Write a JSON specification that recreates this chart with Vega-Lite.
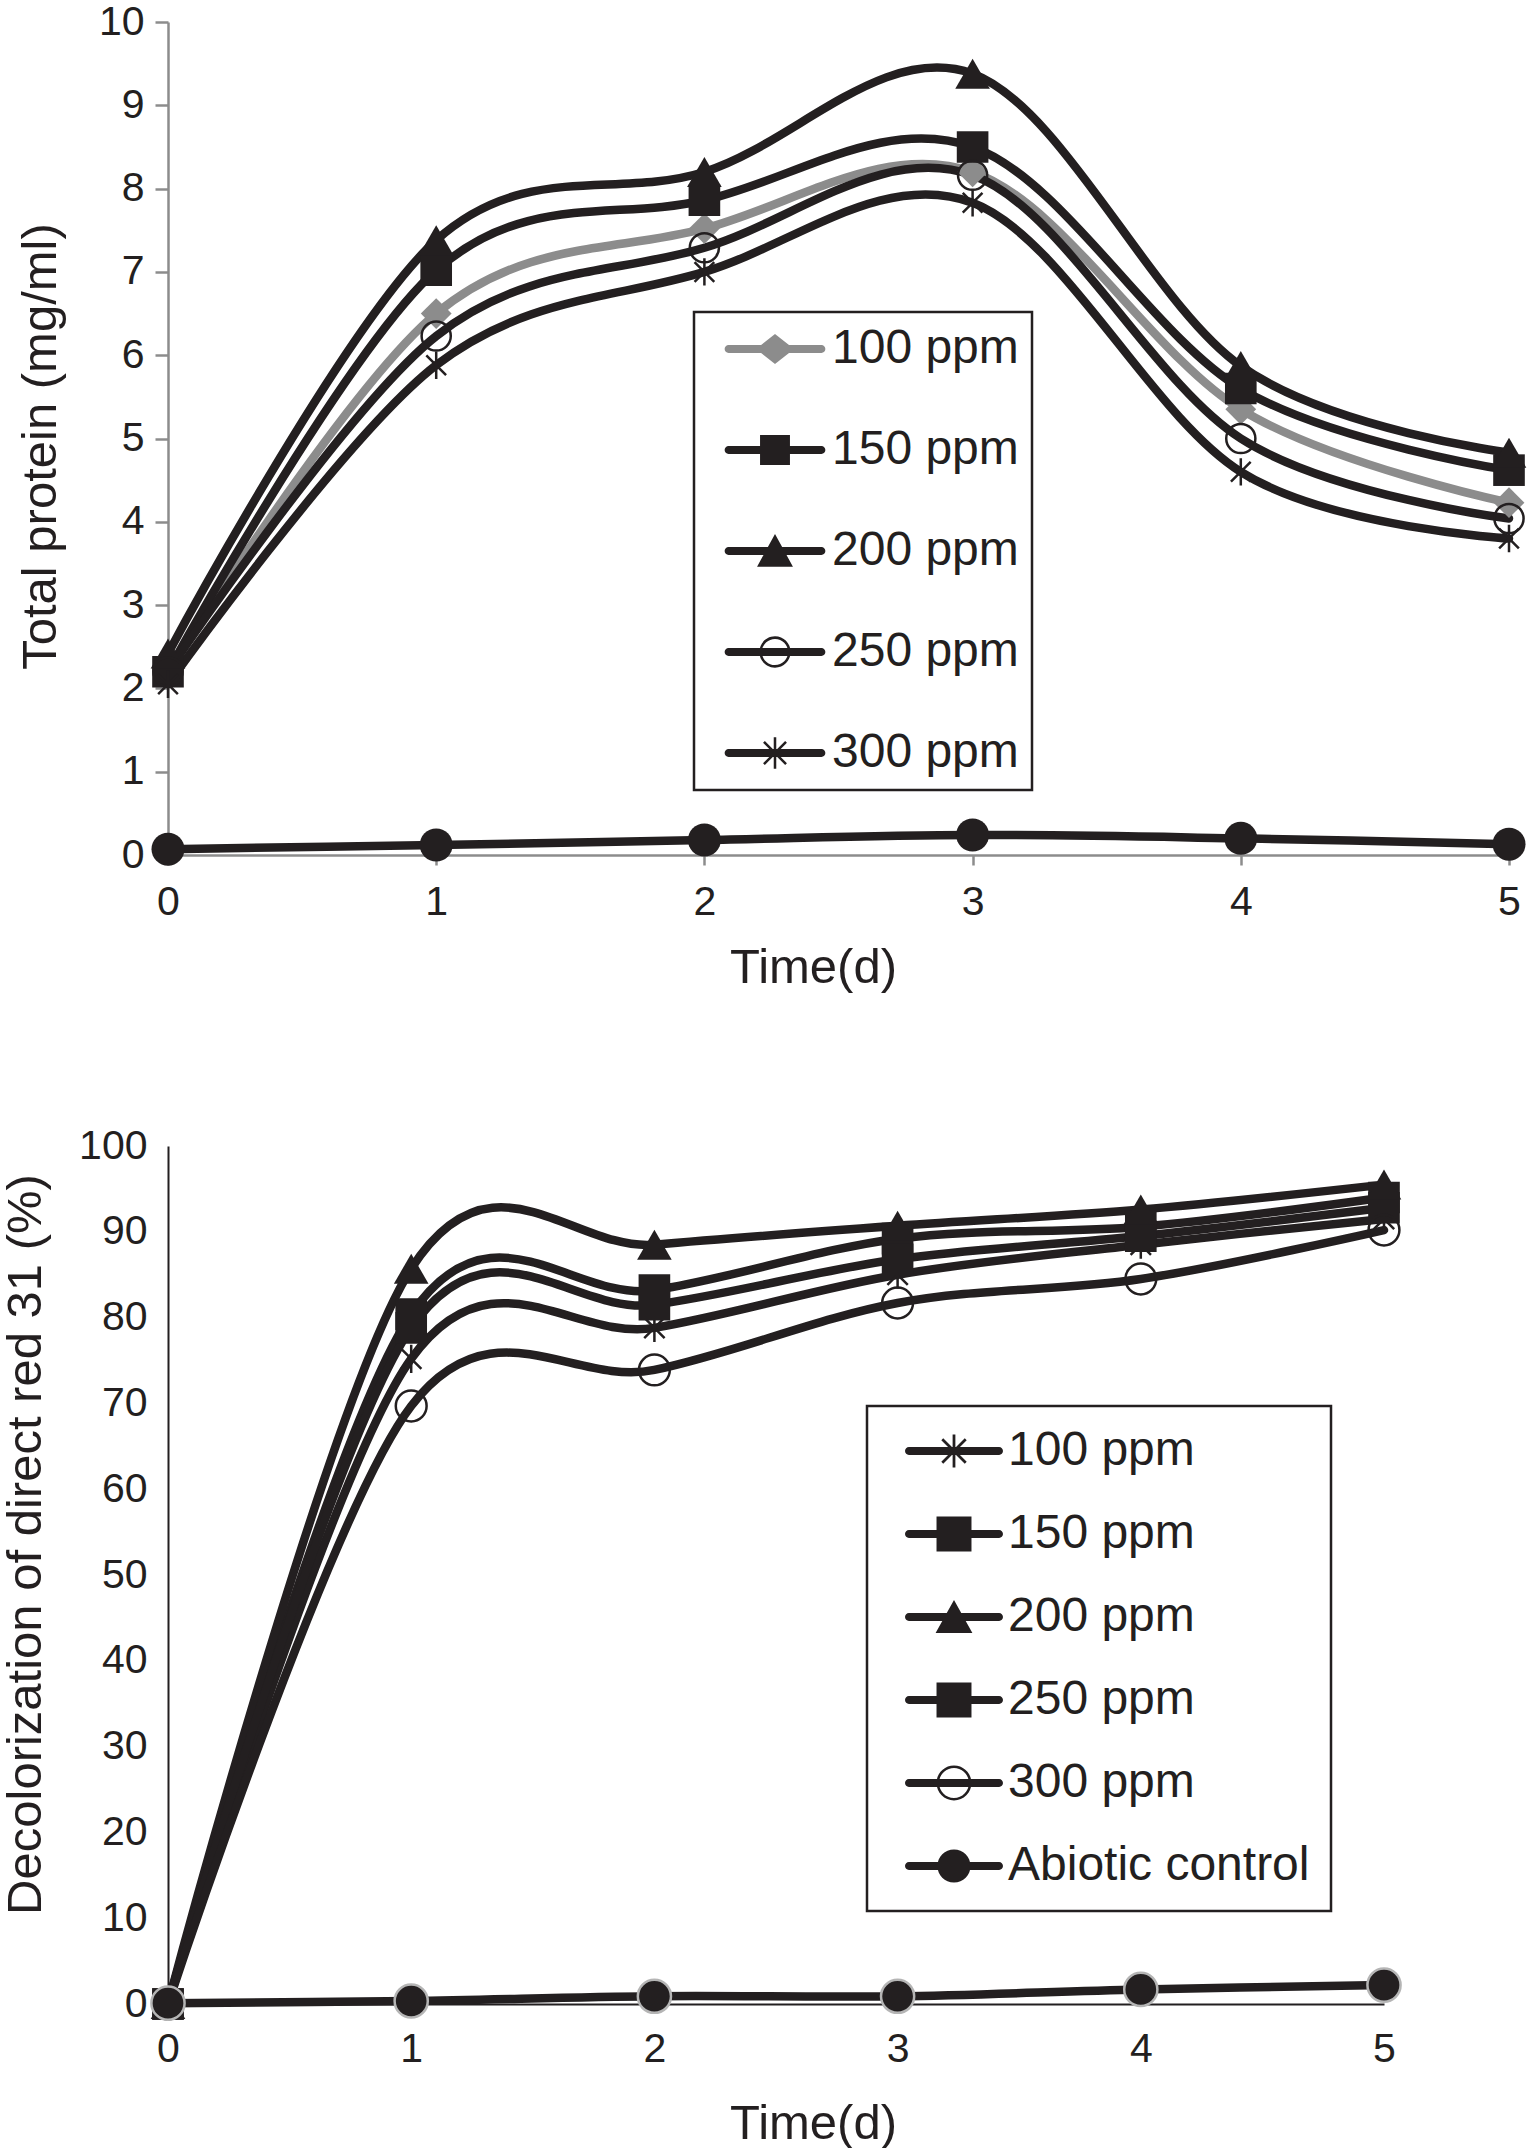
{
  "$schema": "https://vega.github.io/schema/vega-lite/v6.json",
  "padding": {"left": 1, "top": 1, "right": 0, "bottom": 0},
  "spacing": 133,
  "config": {
    "font": "Liberation Sans",
    "view": {"stroke": null},
    "axis": {
      "labelFont": "Liberation Sans",
      "titleFont": "Liberation Sans",
      "labelFontSize": 41,
      "titleFontSize": 49,
      "titleFontWeight": "normal",
      "labelColor": "#231f20",
      "titleColor": "#231f20",
      "grid": false,
      "labelFlush": false,
      "labelOverlap": false
    },
    "legend": {
      "labelFont": "Liberation Sans",
      "labelColor": "#231f20",
      "labelFontSize": 48,
      "labelLimit": 0,
      "strokeColor": "#231f20",
      "fillColor": "#ffffff",
      "strokeWidth": 2.5,
      "symbolSize": 2116,
      "symbolStrokeWidth": 0,
      "symbolOpacity": 1
    }
  },
  "datasets": {
    "protein": [
      {"day": 0, "series": "100 ppm", "value": 2.2},
      {"day": 1, "series": "100 ppm", "value": 6.5},
      {"day": 2, "series": "100 ppm", "value": 7.52},
      {"day": 3, "series": "100 ppm", "value": 8.2},
      {"day": 4, "series": "100 ppm", "value": 5.35},
      {"day": 5, "series": "100 ppm", "value": 4.23},
      {"day": 0, "series": "150 ppm", "value": 2.2},
      {"day": 1, "series": "150 ppm", "value": 7.02},
      {"day": 2, "series": "150 ppm", "value": 7.86},
      {"day": 3, "series": "150 ppm", "value": 8.5},
      {"day": 4, "series": "150 ppm", "value": 5.6},
      {"day": 5, "series": "150 ppm", "value": 4.62},
      {"day": 0, "series": "200 ppm", "value": 2.42},
      {"day": 1, "series": "200 ppm", "value": 7.38},
      {"day": 2, "series": "200 ppm", "value": 8.2},
      {"day": 3, "series": "200 ppm", "value": 9.38},
      {"day": 4, "series": "200 ppm", "value": 5.87},
      {"day": 5, "series": "200 ppm", "value": 4.83},
      {"day": 0, "series": "250 ppm", "value": 2.2},
      {"day": 1, "series": "250 ppm", "value": 6.23},
      {"day": 2, "series": "250 ppm", "value": 7.29},
      {"day": 3, "series": "250 ppm", "value": 8.16},
      {"day": 4, "series": "250 ppm", "value": 5.0},
      {"day": 5, "series": "250 ppm", "value": 4.04},
      {"day": 0, "series": "300 ppm", "value": 2.05},
      {"day": 1, "series": "300 ppm", "value": 5.88},
      {"day": 2, "series": "300 ppm", "value": 7.0},
      {"day": 3, "series": "300 ppm", "value": 7.83},
      {"day": 4, "series": "300 ppm", "value": 4.6},
      {"day": 5, "series": "300 ppm", "value": 3.8},
      {"day": 0, "series": "Abiotic control", "value": 0.07},
      {"day": 1, "series": "Abiotic control", "value": 0.12},
      {"day": 2, "series": "Abiotic control", "value": 0.18},
      {"day": 3, "series": "Abiotic control", "value": 0.24},
      {"day": 4, "series": "Abiotic control", "value": 0.2},
      {"day": 5, "series": "Abiotic control", "value": 0.13}
    ],
    "decol": [
      {"day": 0, "dose": "100 ppm", "value": 0},
      {"day": 1, "dose": "100 ppm", "value": 75.2},
      {"day": 2, "dose": "100 ppm", "value": 78.8},
      {"day": 3, "dose": "100 ppm", "value": 85},
      {"day": 4, "dose": "100 ppm", "value": 88.5},
      {"day": 5, "dose": "100 ppm", "value": 91.5},
      {"day": 0, "dose": "150 ppm", "value": 0},
      {"day": 1, "dose": "150 ppm", "value": 80.4},
      {"day": 2, "dose": "150 ppm", "value": 83.2},
      {"day": 3, "dose": "150 ppm", "value": 89.2},
      {"day": 4, "dose": "150 ppm", "value": 90.6},
      {"day": 5, "dose": "150 ppm", "value": 94},
      {"day": 0, "dose": "200 ppm", "value": 0},
      {"day": 1, "dose": "200 ppm", "value": 85.7},
      {"day": 2, "dose": "200 ppm", "value": 88.5},
      {"day": 3, "dose": "200 ppm", "value": 90.7},
      {"day": 4, "dose": "200 ppm", "value": 92.6},
      {"day": 5, "dose": "200 ppm", "value": 95.5},
      {"day": 0, "dose": "250 ppm", "value": 0},
      {"day": 1, "dose": "250 ppm", "value": 78.8},
      {"day": 2, "dose": "250 ppm", "value": 81.5},
      {"day": 3, "dose": "250 ppm", "value": 86.8},
      {"day": 4, "dose": "250 ppm", "value": 89.5},
      {"day": 5, "dose": "250 ppm", "value": 92.8},
      {"day": 0, "dose": "300 ppm", "value": 0},
      {"day": 1, "dose": "300 ppm", "value": 69.7},
      {"day": 2, "dose": "300 ppm", "value": 73.9},
      {"day": 3, "dose": "300 ppm", "value": 81.7},
      {"day": 4, "dose": "300 ppm", "value": 84.5},
      {"day": 5, "dose": "300 ppm", "value": 90.2},
      {"day": 0, "dose": "Abiotic control", "value": 0.1},
      {"day": 1, "dose": "Abiotic control", "value": 0.35},
      {"day": 2, "dose": "Abiotic control", "value": 0.9},
      {"day": 3, "dose": "Abiotic control", "value": 0.9},
      {"day": 4, "dose": "Abiotic control", "value": 1.7},
      {"day": 5, "dose": "Abiotic control", "value": 2.2}
    ]
  },
  "vconcat": [
    {
      "width": 1341,
      "height": 833,
      "data": {"name": "protein"},
      "encoding": {
        "x": {
          "field": "day",
          "type": "quantitative",
          "scale": {"domain": [0, 5], "nice": false},
          "axis": {
            "values": [0, 1, 2, 3, 4, 5],
            "domainColor": "#8c8c8c",
            "domainWidth": 2.5,
            "tickColor": "#8c8c8c",
            "tickWidth": 2.5,
            "tickSize": 10,
            "labelPadding": 17,
            "title": "Time(d)",
            "titlePadding": 21,
            "titleX": 645
          }
        },
        "y": {
          "field": "value",
          "type": "quantitative",
          "scale": {"domain": [0, 10], "nice": false},
          "axis": {
            "values": [0, 1, 2, 3, 4, 5, 6, 7, 8, 9, 10],
            "domainColor": "#8c8c8c",
            "domainWidth": 2.5,
            "tickColor": "#8c8c8c",
            "tickWidth": 2.5,
            "tickSize": 13,
            "labelPadding": 11,
            "title": "Total protein (mg/ml)",
            "titlePadding": 33,
            "titleY": 424
          }
        }
      },
      "layer": [
        {
          "transform": [{"filter": "datum.series === '100 ppm'"}],
          "mark": {"type": "line", "interpolate": "cardinal", "strokeWidth": 8.5, "strokeCap": "round", "color": "#8c8c8c"},
          "encoding": {}
        },
        {
          "transform": [{"filter": "datum.series !== '100 ppm'"}],
          "mark": {"type": "line", "interpolate": "cardinal", "strokeWidth": 8.5, "strokeCap": "round", "color": "#231f20"},
          "encoding": {"detail": {"field": "series", "type": "nominal"}}
        },
        {
          "transform": [{"filter": "datum.series === '100 ppm'"}],
          "mark": {"type": "point", "shape": "diamond", "filled": true, "color": "#8c8c8c", "size": 950, "opacity": 1},
          "encoding": {}
        },
        {
          "transform": [{"filter": "datum.series === '150 ppm'"}],
          "mark": {"type": "point", "shape": "square", "filled": true, "color": "#231f20", "size": 1000, "opacity": 1},
          "encoding": {}
        },
        {
          "transform": [{"filter": "datum.series === '200 ppm'"}],
          "mark": {"type": "point", "shape": "triangle-up", "filled": true, "color": "#231f20", "size": 1200, "opacity": 1},
          "encoding": {}
        },
        {
          "transform": [{"filter": "datum.series === '250 ppm'"}],
          "mark": {"type": "point", "shape": "circle", "filled": false, "color": "#231f20", "strokeWidth": 2.5, "size": 850, "opacity": 1},
          "encoding": {}
        },
        {
          "transform": [{"filter": "datum.series === '300 ppm'"}],
          "mark": {"type": "point", "shape": "M0,-1V1M-0.72,-0.72L0.72,0.72M-0.72,0.72L0.72,-0.72", "filled": false, "color": "#231f20", "strokeWidth": 2.5, "size": 750, "opacity": 1},
          "encoding": {}
        },
        {
          "transform": [{"filter": "datum.series === 'Abiotic control'"}],
          "mark": {"type": "point", "shape": "circle", "filled": true, "color": "#231f20", "size": 1090, "opacity": 1},
          "encoding": {}
        },
        {
          "transform": [{"filter": "false"}],
          "mark": {"type": "point", "filled": true},
          "encoding": {
            "color": {
              "field": "series",
              "type": "nominal",
              "scale": {
                "domain": ["100 ppm", "150 ppm", "200 ppm", "250 ppm", "300 ppm"],
                "range": ["#8c8c8c", "#231f20", "#231f20", "#231f20", "#231f20"]
              },
              "legend": {
                "title": null, "orient": "none", "legendX": 526, "legendY": 290,
                "direction": "vertical", "padding": 13, "rowPadding": 53,
                "symbolOffset": 44, "labelOffset": 33
              }
            },
            "shape": {
              "field": "series",
              "type": "nominal",
              "scale": {
                "domain": ["100 ppm", "150 ppm", "200 ppm", "250 ppm", "300 ppm"],
                "range": [
                  "M-2.02,-0.17H2.02A0.17,0.17 0 0 1 2.02,0.17H-2.02A0.17,0.17 0 0 1 -2.02,-0.17ZM0,-0.65L0.83,0L0,0.65L-0.83,0Z",
                  "M-2.02,-0.17H2.02A0.17,0.17 0 0 1 2.02,0.17H-2.02A0.17,0.17 0 0 1 -2.02,-0.17ZM-0.65,-0.65H0.65V0.65H-0.65Z",
                  "M-2.02,-0.17H2.02A0.17,0.17 0 0 1 2.02,0.17H-2.02A0.17,0.17 0 0 1 -2.02,-0.17ZM0,-0.74L0.78,0.68L-0.78,0.68Z",
                  "M-2.02,-0.17H2.02A0.17,0.17 0 0 1 2.02,0.17H-2.02A0.17,0.17 0 0 1 -2.02,-0.17ZM0,-0.68A0.68,0.68 0 1 1 0,0.68A0.68,0.68 0 1 1 0,-0.68ZM0,-0.57A0.57,0.57 0 1 0 0,0.57A0.57,0.57 0 1 0 0,-0.57Z",
                  "M-2.02,-0.17H2.02A0.17,0.17 0 0 1 2.02,0.17H-2.02A0.17,0.17 0 0 1 -2.02,-0.17ZM-0.055,-0.68H0.055V0.68H-0.055ZM-0.441,-0.519L0.519,0.441L0.441,0.519L-0.519,-0.441ZM0.519,-0.441L-0.441,0.519L-0.519,0.441L0.441,-0.519Z"
                ]
              },
              "legend": {
                "title": null, "orient": "none", "legendX": 526, "legendY": 290,
                "direction": "vertical", "padding": 13, "rowPadding": 53,
                "symbolOffset": 44, "labelOffset": 33
              }
            }
          }
        }
      ]
    },
    {
      "width": 1216,
      "height": 858,
      "data": {"name": "decol"},
      "encoding": {
        "x": {
          "field": "day",
          "type": "quantitative",
          "scale": {"domain": [0, 5], "nice": false},
          "axis": {
            "values": [0, 1, 2, 3, 4, 5],
            "domainColor": "#231f20",
            "domainWidth": 2,
            "ticks": false,
            "tickSize": 0,
            "labelPadding": 25,
            "title": "Time(d)",
            "titlePadding": 30,
            "titleX": 645
          }
        },
        "y": {
          "field": "value",
          "type": "quantitative",
          "scale": {"domain": [0, 100], "nice": false},
          "axis": {
            "values": [0, 10, 20, 30, 40, 50, 60, 70, 80, 90, 100],
            "domainColor": "#231f20",
            "domainWidth": 2,
            "ticks": false,
            "tickSize": 0,
            "labelPadding": 21,
            "title": "Decolorization of direct red 31 (%)",
            "titlePadding": 28,
            "titleY": 398
          }
        }
      },
      "layer": [
        {
          "mark": {"type": "line", "interpolate": "cardinal", "strokeWidth": 8.5, "strokeCap": "round", "color": "#231f20"},
          "encoding": {"detail": {"field": "dose", "type": "nominal"}}
        },
        {
          "transform": [{"filter": "datum.dose === '100 ppm'"}],
          "mark": {"type": "point", "shape": "M0,-1V1M-0.72,-0.72L0.72,0.72M-0.72,0.72L0.72,-0.72", "filled": false, "color": "#231f20", "strokeWidth": 2.5, "size": 800, "opacity": 1},
          "encoding": {}
        },
        {
          "transform": [{"filter": "datum.dose === '150 ppm' || datum.dose === '250 ppm'"}],
          "mark": {"type": "point", "shape": "square", "filled": true, "color": "#231f20", "size": 1000, "opacity": 1},
          "encoding": {}
        },
        {
          "transform": [{"filter": "datum.dose === '200 ppm'"}],
          "mark": {"type": "point", "shape": "triangle-up", "filled": true, "color": "#231f20", "size": 1200, "opacity": 1},
          "encoding": {}
        },
        {
          "transform": [{"filter": "datum.dose === '300 ppm'"}],
          "mark": {"type": "point", "shape": "circle", "filled": false, "color": "#231f20", "strokeWidth": 2.5, "size": 950, "opacity": 1},
          "encoding": {}
        },
        {
          "transform": [{"filter": "datum.dose === 'Abiotic control'"}],
          "mark": {"type": "point", "shape": "circle", "filled": true, "fill": "#231f20", "stroke": "#b5b5b5", "strokeWidth": 2.5, "size": 1100, "opacity": 1},
          "encoding": {}
        },
        {
          "transform": [{"filter": "false"}],
          "mark": {"type": "point", "filled": true},
          "encoding": {
            "color": {
              "field": "dose",
              "type": "nominal",
              "scale": {
                "domain": ["100 ppm", "150 ppm", "200 ppm", "250 ppm", "300 ppm", "Abiotic control"],
                "range": ["#231f20", "#231f20", "#231f20", "#231f20", "#231f20", "#231f20"]
              },
              "legend": {
                "title": null, "orient": "none", "legendX": 699, "legendY": 260,
                "direction": "vertical", "padding": 21, "rowPadding": 35,
                "symbolOffset": 42, "labelOffset": 30
              }
            },
            "shape": {
              "field": "dose",
              "type": "nominal",
              "scale": {
                "domain": ["100 ppm", "150 ppm", "200 ppm", "250 ppm", "300 ppm", "Abiotic control"],
                "range": [
                  "M-1.96,-0.17H1.96A0.17,0.17 0 0 1 1.96,0.17H-1.96A0.17,0.17 0 0 1 -1.96,-0.17ZM-0.06,-0.72H0.06V0.72H-0.06ZM-0.468,-0.552L0.552,0.468L0.468,0.552L-0.552,-0.468ZM0.552,-0.468L-0.468,0.552L-0.552,0.468L0.468,-0.552Z",
                  "M-1.96,-0.17H1.96A0.17,0.17 0 0 1 1.96,0.17H-1.96A0.17,0.17 0 0 1 -1.96,-0.17ZM-0.76,-0.76H0.76V0.76H-0.76Z",
                  "M-1.96,-0.17H1.96A0.17,0.17 0 0 1 1.96,0.17H-1.96A0.17,0.17 0 0 1 -1.96,-0.17ZM0,-0.74L0.8,0.7L-0.8,0.7Z",
                  "M-1.96,-0.17H1.96A0.17,0.17 0 0 1 1.96,0.17H-1.96A0.17,0.17 0 0 1 -1.96,-0.17ZM-0.76,-0.76H0.76V0.76H-0.76Z",
                  "M-1.96,-0.17H1.96A0.17,0.17 0 0 1 1.96,0.17H-1.96A0.17,0.17 0 0 1 -1.96,-0.17ZM0,-0.76A0.76,0.76 0 1 1 0,0.76A0.76,0.76 0 1 1 0,-0.76ZM0,-0.65A0.65,0.65 0 1 0 0,0.65A0.65,0.65 0 1 0 0,-0.65Z",
                  "M-1.96,-0.17H1.96A0.17,0.17 0 0 1 1.96,0.17H-1.96A0.17,0.17 0 0 1 -1.96,-0.17ZM0,-0.72A0.72,0.72 0 1 1 0,0.72A0.72,0.72 0 1 1 0,-0.72Z"
                ]
              },
              "legend": {
                "title": null, "orient": "none", "legendX": 699, "legendY": 260,
                "direction": "vertical", "padding": 21, "rowPadding": 35,
                "symbolOffset": 42, "labelOffset": 30
              }
            }
          }
        }
      ]
    }
  ],
  "resolve": {
    "scale": {
      "x": "independent",
      "y": "independent",
      "color": "independent",
      "shape": "independent"
    },
    "legend": {"color": "independent", "shape": "independent"}
  }
}
